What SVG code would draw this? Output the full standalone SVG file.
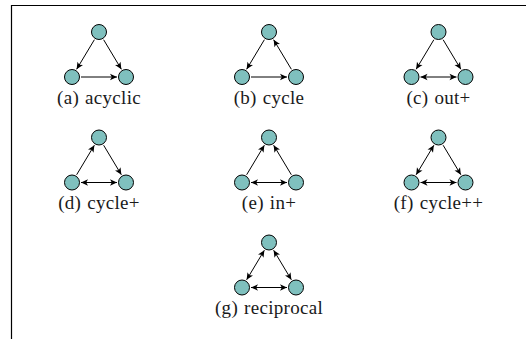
<svg xmlns="http://www.w3.org/2000/svg" width="526" height="339" viewBox="0 0 526 339">
<style>
.node{fill:#7fc0be;stroke:#000;stroke-width:1}
.e{stroke:#000;stroke-width:1;fill:none}
.one{marker-end:url(#ah)}
.two{marker-end:url(#ah);marker-start:url(#ah)}
.lbl{font-family:"Liberation Serif","Times New Roman",serif;font-size:19px;letter-spacing:0.3px;fill:#1a1a1a;text-anchor:middle}
.frame{stroke:#000;stroke-width:1.2;fill:none}
</style>
<defs>
<marker id="ah" markerUnits="userSpaceOnUse" viewBox="-8 -4 9 8" refX="0" refY="0" markerWidth="9" markerHeight="8" orient="auto-start-reverse">
<path d="M0,0 L-7,-3.2 L-5.2,0 L-7,3.2 Z" fill="#000"/>
</marker>
</defs>
<path class="frame" d="M11.5,339 V5.5 H526"/>

<g id="motif-a" transform="translate(99,32)">
<g id="a-edges">
<line class="e one" x1="-4.63" y1="7.72" x2="-22.37" y2="37.28"/>
<line class="e one" x1="4.63" y1="7.72" x2="22.37" y2="37.28"/>
<line class="e one" x1="-18" y1="45" x2="18" y2="45"/>
</g>
<g id="a-top"><circle class="node" r="7.5" cx="0" cy="0"/></g>
<g id="a-left"><circle class="node" r="7.5" cx="-27" cy="45"/></g>
<g id="a-right"><circle class="node" r="7.5" cx="27" cy="45"/></g>
<text class="lbl" x="0" y="71.5">(a) <tspan dx="1">acyclic</tspan></text>
</g>

<g id="motif-b" transform="translate(269,32)">
<g id="b-edges">
<line class="e one" x1="-4.63" y1="7.72" x2="-22.37" y2="37.28"/>
<line class="e one" x1="22.37" y1="37.28" x2="4.63" y2="7.72"/>
<line class="e one" x1="-18" y1="45" x2="18" y2="45"/>
</g>
<g id="b-top"><circle class="node" r="7.5" cx="0" cy="0"/></g>
<g id="b-left"><circle class="node" r="7.5" cx="-27" cy="45"/></g>
<g id="b-right"><circle class="node" r="7.5" cx="27" cy="45"/></g>
<text class="lbl" x="0" y="71.5">(b) <tspan dx="1">cycle</tspan></text>
</g>

<g id="motif-c" transform="translate(438.5,32)">
<g id="c-edges">
<line class="e one" x1="-4.63" y1="7.72" x2="-22.37" y2="37.28"/>
<line class="e one" x1="4.63" y1="7.72" x2="22.37" y2="37.28"/>
<line class="e two" x1="-18" y1="45" x2="18" y2="45"/>
</g>
<g id="c-top"><circle class="node" r="7.5" cx="0" cy="0"/></g>
<g id="c-left"><circle class="node" r="7.5" cx="-27" cy="45"/></g>
<g id="c-right"><circle class="node" r="7.5" cx="27" cy="45"/></g>
<text class="lbl" x="0" y="71.5">(c) <tspan dx="1">out+</tspan></text>
</g>

<g id="motif-d" transform="translate(99,137.5)">
<g id="d-edges">
<line class="e one" x1="-22.37" y1="37.28" x2="-4.63" y2="7.72"/>
<line class="e one" x1="4.63" y1="7.72" x2="22.37" y2="37.28"/>
<line class="e two" x1="-18" y1="45" x2="18" y2="45"/>
</g>
<g id="d-top"><circle class="node" r="7.5" cx="0" cy="0"/></g>
<g id="d-left"><circle class="node" r="7.5" cx="-27" cy="45"/></g>
<g id="d-right"><circle class="node" r="7.5" cx="27" cy="45"/></g>
<text class="lbl" x="0" y="71.5">(d) <tspan dx="1">cycle+</tspan></text>
</g>

<g id="motif-e" transform="translate(269,137.5)">
<g id="e-edges">
<line class="e one" x1="-22.37" y1="37.28" x2="-4.63" y2="7.72"/>
<line class="e one" x1="22.37" y1="37.28" x2="4.63" y2="7.72"/>
<line class="e two" x1="-18" y1="45" x2="18" y2="45"/>
</g>
<g id="e-top"><circle class="node" r="7.5" cx="0" cy="0"/></g>
<g id="e-left"><circle class="node" r="7.5" cx="-27" cy="45"/></g>
<g id="e-right"><circle class="node" r="7.5" cx="27" cy="45"/></g>
<text class="lbl" x="0" y="71.5">(e) <tspan dx="1">in+</tspan></text>
</g>

<g id="motif-f" transform="translate(438.5,137.5)">
<g id="f-edges">
<line class="e two" x1="-4.63" y1="7.72" x2="-22.37" y2="37.28"/>
<line class="e one" x1="4.63" y1="7.72" x2="22.37" y2="37.28"/>
<line class="e two" x1="-18" y1="45" x2="18" y2="45"/>
</g>
<g id="f-top"><circle class="node" r="7.5" cx="0" cy="0"/></g>
<g id="f-left"><circle class="node" r="7.5" cx="-27" cy="45"/></g>
<g id="f-right"><circle class="node" r="7.5" cx="27" cy="45"/></g>
<text class="lbl" x="0" y="71.5">(f) <tspan dx="1">cycle++</tspan></text>
</g>

<g id="motif-g" transform="translate(269,242.5)">
<g id="g-edges">
<line class="e two" x1="-4.63" y1="7.72" x2="-22.37" y2="37.28"/>
<line class="e two" x1="4.63" y1="7.72" x2="22.37" y2="37.28"/>
<line class="e two" x1="-18" y1="45" x2="18" y2="45"/>
</g>
<g id="g-top"><circle class="node" r="7.5" cx="0" cy="0"/></g>
<g id="g-left"><circle class="node" r="7.5" cx="-27" cy="45"/></g>
<g id="g-right"><circle class="node" r="7.5" cx="27" cy="45"/></g>
<text class="lbl" x="0" y="71.5">(g) <tspan dx="1">reciprocal</tspan></text>
</g>
</svg>
